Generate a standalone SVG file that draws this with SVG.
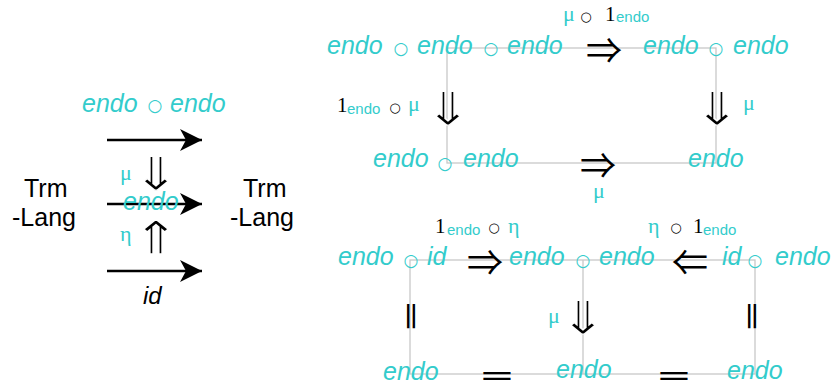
<svg xmlns="http://www.w3.org/2000/svg" width="832" height="390" viewBox="0 0 832 390">
<style>
.e{font-family:"Liberation Sans",Arial,sans-serif;font-style:italic;font-size:25px;fill:#33cccc}
.k{font-family:"Liberation Sans",Arial,sans-serif;font-size:25px;fill:#000}
.ki{font-family:"Liberation Sans",Arial,sans-serif;font-style:italic;font-size:24px;fill:#000}
.c{font-family:"DejaVu Sans",sans-serif;font-size:17px;fill:#33cccc;text-anchor:middle;dominant-baseline:central}
.cb{font-family:"DejaVu Sans",sans-serif;font-size:13px;fill:#000;text-anchor:middle;dominant-baseline:central}
.g{font-family:"Liberation Serif","Times New Roman",serif;font-size:22px;fill:#33cccc}
.one{font-family:"Liberation Serif","Times New Roman",serif;font-size:21px;fill:#000}
.sub{font-family:"Liberation Sans",Arial,sans-serif;font-size:15px;fill:#33cccc}
.ar{font-family:"Noto Sans CJK JP","DejaVu Sans",sans-serif;font-size:36px;fill:#000;text-anchor:middle;dominant-baseline:central}
.av{font-family:"DejaVu Sans",sans-serif;font-size:46px;fill:#000;stroke:#fff;stroke-width:1.3;text-anchor:middle;dominant-baseline:central}
.eq{font-family:"DejaVu Sans",sans-serif;font-size:26px;fill:#000;text-anchor:middle;dominant-baseline:central}
.ln{fill:none;stroke:#c8c8c8;stroke-width:1.3}
.sh{stroke:#000;stroke-width:2.3;fill:none}
</style>
<defs>
<marker id="ah" markerWidth="24" markerHeight="24" refX="22" refY="11" orient="auto" markerUnits="userSpaceOnUse">
<path d="M22,11 L0,0 L6,11 L0,22 Z" fill="#000"/>
</marker>
</defs>

<!-- left diagram -->
<g id="trm-left"><text class="k" x="24" y="197">Trm</text><text class="k" x="12" y="226">-Lang</text></g>
<g id="trm-right"><text class="k" x="243" y="197">Trm</text><text class="k" x="230" y="226">-Lang</text></g>
<g id="left-edges">
<line class="sh" x1="107" y1="140" x2="202" y2="140" marker-end="url(#ah)"/>
<line class="sh" x1="107" y1="204" x2="202" y2="204" marker-end="url(#ah)"/>
<line class="sh" x1="107" y1="271" x2="202" y2="271" marker-end="url(#ah)"/>
</g>
<g id="left-labels">
<text class="e" x="82" y="112">endo</text><text class="c" x="155" y="105">○</text><text class="e" x="170" y="112">endo</text>
<text class="g" x="120" y="180">μ</text>
<text class="av" transform="translate(156,174) scale(1.25,1)">⇓</text>
<text class="e" x="123" y="210">endo</text>
<text class="g" x="120" y="241">η</text>
<text class="av" transform="translate(156,238) scale(1.25,1)">⇑</text>
<text class="ki" x="143" y="304">id</text>
</g>

<!-- top right diagram -->
<g id="top-connectors">
<rect class="ln" x="447" y="48" width="269" height="115"/>
</g>
<g id="n-eee"><text class="e" x="327" y="54">endo</text><text class="c" x="401" y="48">○</text><text class="e" x="417" y="54">endo</text><text class="c" x="491" y="48">○</text><text class="e" x="507" y="54">endo</text></g>
<g id="n-ee-top"><text class="e" x="643" y="54">endo</text><text class="c" x="716" y="48">○</text><text class="e" x="733" y="54">endo</text></g>
<g id="n-ee-bot"><text class="e" x="373" y="167">endo</text><text class="c" x="445" y="163">○</text><text class="e" x="463" y="167">endo</text></g>
<g id="n-e-bot"><text class="e" x="688" y="167">endo</text></g>
<g id="top-cells">
<text class="ar" x="604" y="48">⇒</text>
<text class="g" x="563" y="21">μ</text><text class="cb" x="586" y="16">○</text><text class="one" x="605" y="21">1</text><text class="sub" x="616" y="22">endo</text>
<text class="av" transform="translate(448,109) scale(1.25,1)">⇓</text>
<text class="one" x="337" y="112">1</text><text class="sub" x="347" y="114">endo</text><text class="cb" x="395" y="107">○</text><text class="g" x="408" y="111">μ</text>
<text class="av" transform="translate(717,109) scale(1.25,1)">⇓</text>
<text class="g" x="743" y="110">μ</text>
<text class="ar" x="598" y="163">⇒</text>
<text class="g" x="593" y="198">μ</text>
</g>

<!-- bottom right diagram -->
<g id="bottom-connectors">
<rect class="ln" x="410" y="260" width="345" height="114"/>
<line class="ln" x1="583" y1="260" x2="583" y2="374"/>
</g>
<g id="n-eid"><text class="e" x="338" y="265">endo</text><text class="c" x="411" y="260">○</text><text class="e" x="427" y="265">id</text></g>
<g id="n-ee-mid"><text class="e" x="509" y="265">endo</text><text class="c" x="583" y="260">○</text><text class="e" x="599" y="265">endo</text></g>
<g id="n-ide"><text class="e" x="722" y="265">id</text><text class="c" x="755" y="260">○</text><text class="e" x="775" y="265">endo</text></g>
<g id="n-e1"><text class="e" x="383" y="380">endo</text></g>
<g id="n-e2"><text class="e" x="556" y="378">endo</text></g>
<g id="n-e3"><text class="e" x="727" y="379">endo</text></g>
<g id="bottom-cells">
<text class="ar" x="485" y="260">⇒</text>
<text class="one" x="435" y="233">1</text><text class="sub" x="447" y="235">endo</text><text class="cb" x="494" y="227">○</text><text class="g" x="508" y="233">η</text>
<text class="ar" x="690" y="260">⇐</text>
<text class="g" x="648" y="233">η</text><text class="cb" x="676" y="227">○</text><text class="one" x="693" y="233">1</text><text class="sub" x="703" y="235">endo</text>
<text class="eq" transform="translate(412,316) rotate(90) scale(1.5,1.1)">=</text>
<text class="eq" transform="translate(753,316) rotate(90) scale(1.5,1.1)">=</text>
<text class="av" transform="translate(583,318) scale(1.25,1)">⇓</text>
<text class="g" x="548" y="323">μ</text>
<text class="eq" transform="translate(497,375) scale(1.67,1.1)">=</text>
<text class="eq" transform="translate(674,375) scale(1.67,1.1)">=</text>
</g>
</svg>
